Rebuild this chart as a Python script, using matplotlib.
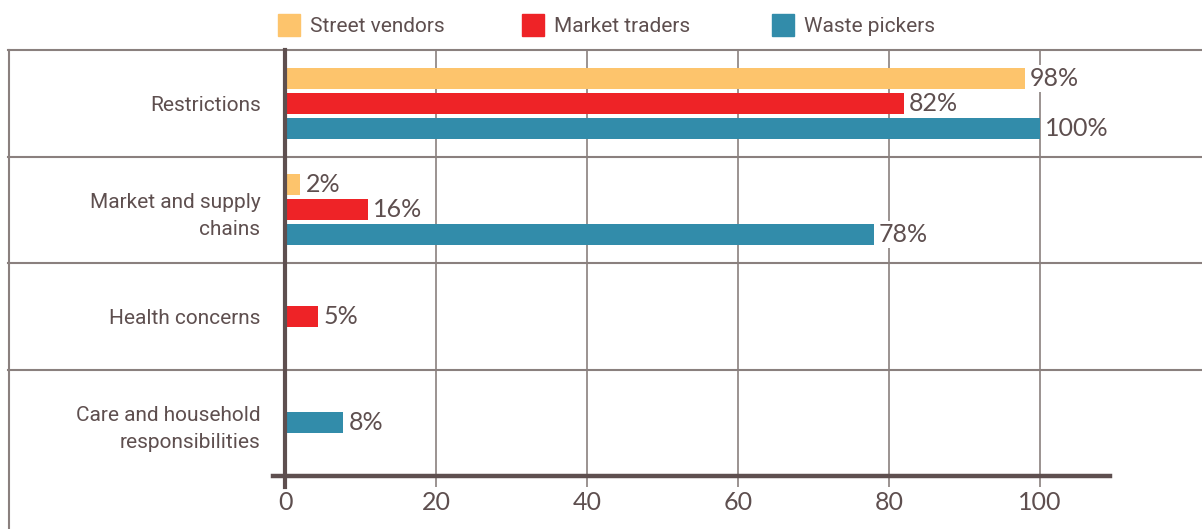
import numpy as np
import matplotlib
matplotlib.use("Agg")
import matplotlib.pyplot as plt
from matplotlib.patches import Rectangle
from matplotlib.lines import Line2D
import matplotlib.transforms as mtransforms

categories = ["Restrictions", "Market and supply\nchains", "Health concerns",
              "Care and household\nresponsibilities"]
series = ["Street vendors", "Market traders", "Waste pickers"]
# bar lengths as drawn, and the printed labels
street = [98, 2, 0, 0]
market = [82, 11, 4.4, 0]
waste = [100, 78, 0, 7.7]
street_lbl = ["98%", "2%", "", ""]
market_lbl = ["82%", "16%", "5%", ""]
waste_lbl = ["100%", "78%", "", "8%"]
xticks = [0, 20, 40, 60, 80, 100]

colors = ["#fdc46c", "#ee2327", "#328caa"]
txt = "#5e4f4f"
grid = "#8a807e"

W, H = 1202, 529
fig = plt.figure(figsize=(W / 100, H / 100), dpi=100)
ax = fig.add_axes([273 / W, 1 - 476 / H, 837 / W, 426 / H])
ax.set_facecolor("none")
ax.set_xlim(-1.6, 109.3)
ax.set_ylim(4, 0)

vals = [street, market, waste]
lbls = [street_lbl, market_lbl, waste_lbl]
step = 0.235
bh = 0.197
for i in range(len(categories)):
    present = [s for s in range(3) if vals[s][i] > 0]
    n = len(present)
    for k, s in enumerate(present):
        y = i + 0.5 + (k - (n - 1) / 2) * step
        ax.barh(y, vals[s][i], height=bh, color=colors[s], zorder=3)
        ax.text(vals[s][i] + 0.7, y, lbls[s][i], va="center", ha="left",
                fontsize=18, family="Lato", color=txt, zorder=4,
                bbox=dict(facecolor="white", edgecolor="none", pad=1.5))

# vertical grid
for xv in xticks[1:]:
    ax.axvline(xv, color=grid, lw=1.2, zorder=1)

# horizontal separators across the whole width
tr = mtransforms.blended_transform_factory(fig.transFigure, ax.transData)
for yv in [0, 1, 2, 3]:
    fig.add_artist(Line2D([8 / W, 1.0], [yv, yv], transform=tr, color=grid, lw=1.5, zorder=-1))
fig.add_artist(Line2D([8.5 / W, 8.5 / W], [0, 1 - 50 / H], transform=fig.transFigure,
                      color=grid, lw=1.5, zorder=-1))

ax.axvline(0, ymin=-11 / 426, ymax=1, color=txt, lw=3, zorder=5, clip_on=False)

for sp in ["top", "right", "left"]:
    ax.spines[sp].set_visible(False)
ax.spines["bottom"].set_color(txt)
ax.spines["bottom"].set_linewidth(3.2)
ax.spines["bottom"].set_zorder(5)

ax.set_xticks(xticks)
ax.set_xticklabels([str(t) for t in xticks], fontsize=18, family="Lato", color=txt)
ax.tick_params(axis="x", length=8, width=1.2, color=grid, pad=3)
ax.set_yticks([0.5, 1.5, 2.5, 3.5])
ax.set_yticklabels(categories, fontsize=15, family="Roboto", color=txt,
                   linespacing=1.55)
ax.tick_params(axis="y", length=0, pad=9)

# legend
lx = [278, 522, 772]
for s in range(3):
    fig.add_artist(Rectangle((lx[s] / W, 1 - 36 / H), 22 / W, 22 / H,
                             transform=fig.transFigure, color=colors[s]))
    fig.text((lx[s] + 32) / W, 1 - 26 / H, series[s], fontsize=15, family="Roboto",
             color=txt, va="center", ha="left")

fig.savefig("out.png", dpi=100)
